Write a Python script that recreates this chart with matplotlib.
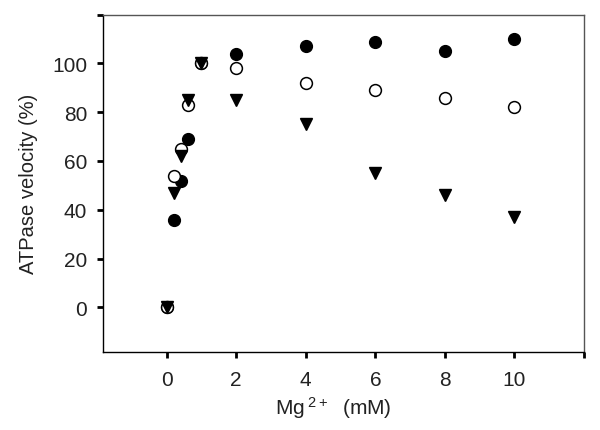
import numpy as np
import matplotlib
matplotlib.use('Agg')
import matplotlib.pyplot as plt

plt.rcParams['font.family'] = ['Liberation Sans', 'DejaVu Sans']
plt.rcParams['mathtext.default'] = 'regular'

# Mg2+ concentration (mM)
mg = [0, 0.2, 0.4, 0.6, 1, 2, 4, 6, 8, 10]

# ATPase velocity (%) for the three series
filled = [0, 36, 52, 69, 100, 104, 107, 109, 105, 110]
opened = [0, 54, 65, 83, 100, 98, 92, 89, 86, 82]
tri = [0, 47, 62, 85, 100, 85, 75, 55, 46, 37]

fig = plt.figure(figsize=(6, 4.31), dpi=100)
ax = fig.add_axes([0.1717, 0.1817, 0.8016, 0.7819])

ax.plot(mg, filled, 'o', color='black', ms=8.5, ls='none', zorder=3)
ax.plot(mg, opened, 'o', mfc='white', mec='black', mew=1.1, ms=8.5, ls='none', zorder=4)
ax.plot(mg, tri, 'v', color='black', ms=9, ls='none', zorder=5)

ax.set_xlim(-1.83, 12)
ax.set_ylim(-18.2, 120)

ax.set_xticks([0, 2, 4, 6, 8, 10, 12])
ax.set_xticklabels(['0', '2', '4', '6', '8', '10', ''])
ax.set_yticks([0, 20, 40, 60, 80, 100, 120])
ax.set_yticklabels(['0', '20', '40', '60', '80', '100', ''])

ax.tick_params(direction='out', length=4.5, width=2, labelsize=15, colors='black')
ax.tick_params(axis='x', pad=9)
ax.tick_params(axis='y', pad=7)
for lab in ax.get_xticklabels() + ax.get_yticklabels():
    lab.set_color('#222222')

for s in ['left', 'bottom']:
    ax.spines[s].set_color('black')
    ax.spines[s].set_linewidth(1.0)
for s in ['top', 'right']:
    ax.spines[s].set_color('#555555')
    ax.spines[s].set_linewidth(1.0)

ax.set_xlabel('Mg$\\,^{2+}$  (mM)', fontsize=15, color='#222222')
ax.xaxis.set_label_coords(0.478, -0.125)
ax.set_ylabel('ATPase velocity (%)', fontsize=14.5, labelpad=10, color='#222222')

plt.savefig('out.png', dpi=100)
